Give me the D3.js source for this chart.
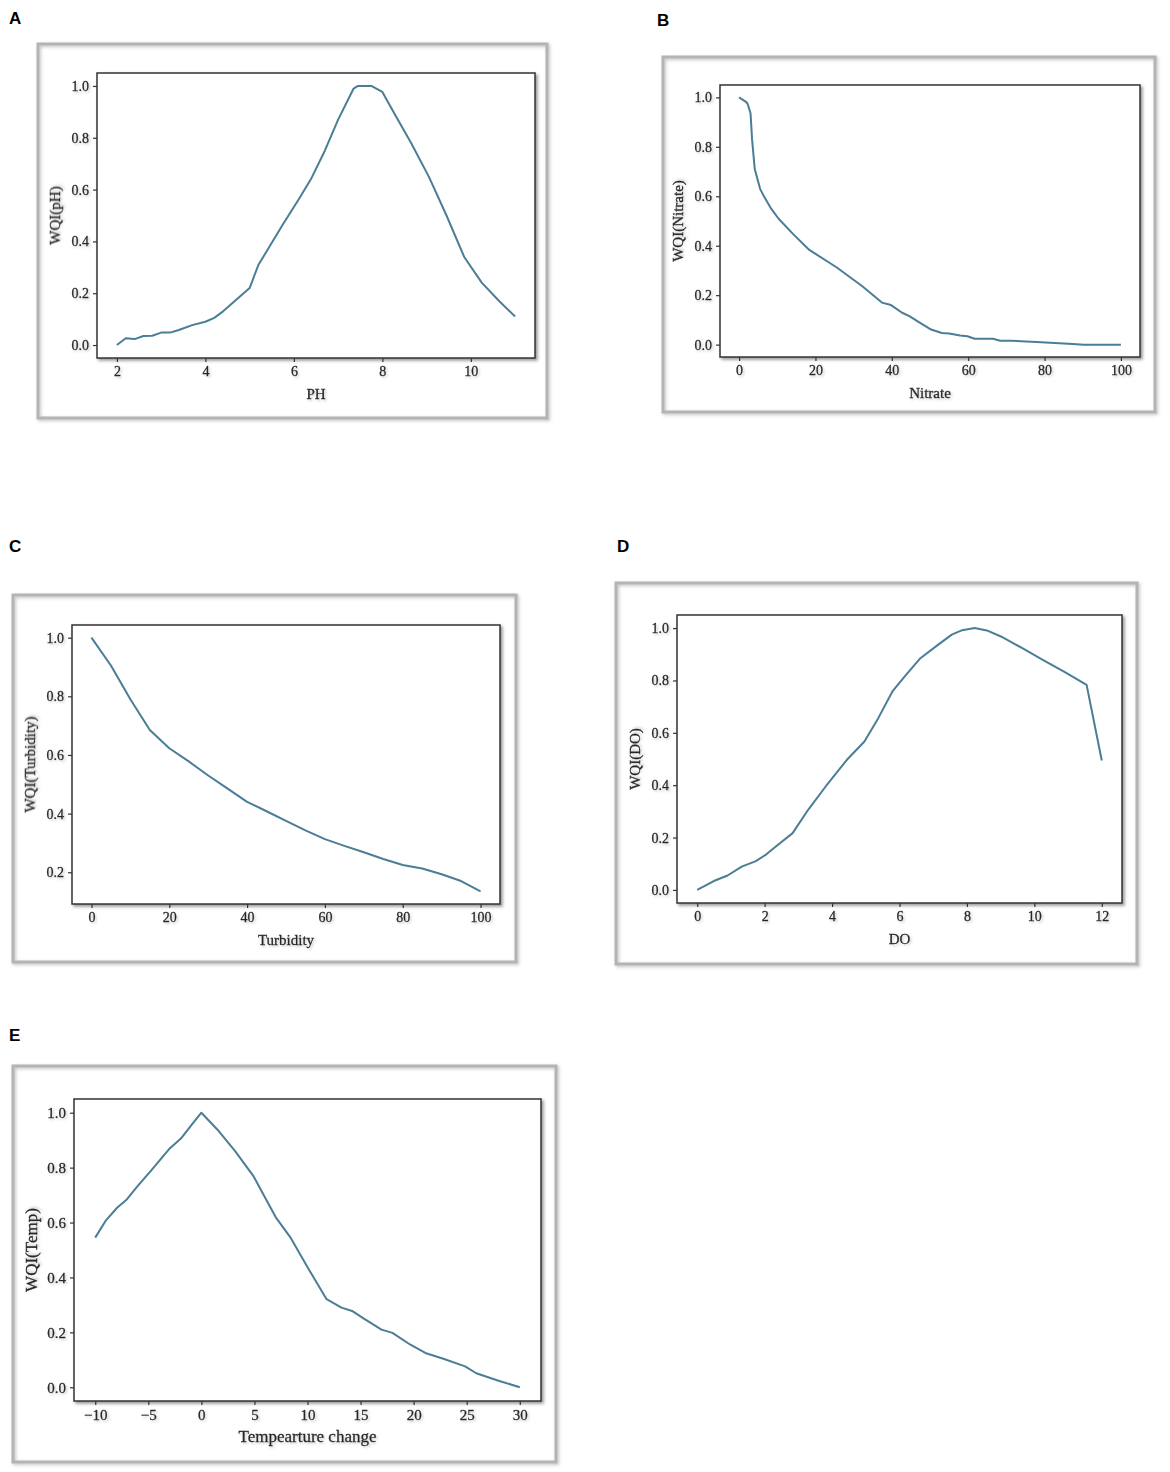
<!DOCTYPE html>
<html>
<head>
<meta charset="utf-8">
<script src="https://cdn.jsdelivr.net/npm/d3@7"></script>
<style>
  body { margin: 0; background: #fff; }
  svg { display: block; }
  .tick text { font-family: "Liberation Serif", "DejaVu Serif", serif; fill: #262626; stroke: #262626; stroke-width: 0.3px; }
  .axis-title { font-family: "Liberation Serif", "DejaVu Serif", serif; fill: #262626; stroke: #262626; stroke-width: 0.3px; }
  .panel-letter { font-family: "Liberation Sans", Arial, sans-serif; font-size: 17px; font-weight: bold; fill: #000; }
</style>
</head>
<body>
<script>
// WQI curves, values

// A - pH
var phX = [2, 2.2, 2.4, 2.6, 2.8, 3.0, 3.2, 3.4, 3.7, 4.0, 4.2, 4.4, 4.6, 5.0, 5.2, 5.45, 5.75, 6.1, 6.4, 6.7, 7.0, 7.35, 7.45, 7.75, 8.0, 8.3, 8.65, 9.05, 9.45, 9.85, 10.25, 10.65, 11.0];
var phY = [0, 0.026, 0.023, 0.035, 0.036, 0.048, 0.048, 0.058, 0.077, 0.09, 0.105, 0.13, 0.16, 0.22, 0.31, 0.38, 0.465, 0.56, 0.645, 0.75, 0.87, 0.99, 1.0, 1.0, 0.977, 0.885, 0.78, 0.65, 0.50, 0.34, 0.24, 0.168, 0.11];
var phTicksX = [2, 4, 6, 8, 10];
var phTicksY = [0, 0.2, 0.4, 0.6, 0.8, 1.0];

// B - Nitrate
var nitrateX = [0, 1.7, 2.2, 3.0, 3.4, 4.1, 5.5, 6.5, 8.4, 10.3, 14.1, 18.4, 25.5, 32.2, 37.4, 39.8, 42.7, 44.6, 47.4, 50.3, 53.1, 55, 57.9, 59.8, 61.7, 64.6, 66.5, 68.4, 71.2, 77.9, 82.7, 87.4, 90.3, 100];
var nitrateY = [1.0, 0.983, 0.975, 0.936, 0.83, 0.71, 0.63, 0.60, 0.55, 0.51, 0.448, 0.383, 0.313, 0.237, 0.17, 0.16, 0.129, 0.115, 0.088, 0.061, 0.047, 0.045, 0.037, 0.034, 0.024, 0.024, 0.024, 0.016, 0.016, 0.011, 0.007, 0.003, 0.0, 0.0];
var nitrateTicksX = [0, 20, 40, 60, 80, 100];
var nitrateTicksY = [0, 0.2, 0.4, 0.6, 0.8, 1.0];

// C - Turbidity
var turbX = [0, 5, 10, 15, 20, 25, 30, 35, 40, 45, 50, 55, 60, 65, 70, 75, 80, 85, 90, 95, 100];
var turbY = [1.0, 0.905, 0.79, 0.685, 0.623, 0.578, 0.53, 0.485, 0.44, 0.408, 0.375, 0.343, 0.313, 0.29, 0.268, 0.245, 0.225, 0.213, 0.193, 0.17, 0.135];
var turbTicksX = [0, 20, 40, 60, 80, 100];
var turbTicksY = [0.2, 0.4, 0.6, 0.8, 1.0];

// D - DO
var doX = [0, 0.49, 0.9, 1.32, 1.74, 2.05, 2.36, 2.83, 3.29, 3.81, 4.44, 4.96, 5.37, 5.79, 6.2, 6.62, 7.14, 7.55, 7.86, 8.23, 8.59, 9.01, 9.63, 10.25, 10.88, 11.55, 12];
var doY = [0, 0.034, 0.055, 0.089, 0.11, 0.136, 0.169, 0.217, 0.306, 0.395, 0.497, 0.567, 0.656, 0.758, 0.822, 0.885, 0.936, 0.975, 0.992, 1.0, 0.991, 0.968, 0.924, 0.879, 0.834, 0.783, 0.494];
var doTicksX = [0, 2, 4, 6, 8, 10, 12];
var doTicksY = [0, 0.2, 0.4, 0.6, 0.8, 1.0];

// E - Temperature change
var tempX = [-10, -8.97, -7.94, -7.08, -6.05, -4.68, -2.96, -1.93, -0.9, 0, 1.5, 3.2, 4.94, 5.96, 7.0, 8.37, 10.1, 11.8, 13.2, 14.2, 15.2, 16.97, 18, 19.7, 21.1, 22.8, 24.85, 25.9, 28, 30];
var tempY = [0.545, 0.609, 0.654, 0.682, 0.731, 0.792, 0.871, 0.906, 0.957, 1.0, 0.939, 0.859, 0.767, 0.694, 0.62, 0.547, 0.431, 0.321, 0.29, 0.278, 0.253, 0.21, 0.198, 0.155, 0.125, 0.104, 0.076, 0.051, 0.024, 0.0];
var tempTicksX = [-10, -5, 0, 5, 10, 15, 20, 25, 30];
var tempTicksY = [0, 0.2, 0.4, 0.6, 0.8, 1.0];

// panel layout: outer frame box, plot box, letter position, font sizes
var panels = [
    {letter: "A", xs: phX, ys: phY, tx: phTicksX, ty: phTicksY, xlabel: "PH", ylabel: "WQI(pH)",
     frame: [38, 44, 547, 418], plot: [97, 73, 535, 358], lx: 9, ly: 24, fs: 14, ls: 15},
    {letter: "B", xs: nitrateX, ys: nitrateY, tx: nitrateTicksX, ty: nitrateTicksY, xlabel: "Nitrate", ylabel: "WQI(Nitrate)",
     frame: [663, 57, 1155, 412], plot: [720, 85, 1140, 357], lx: 657, ly: 26, fs: 14, ls: 15},
    {letter: "C", xs: turbX, ys: turbY, tx: turbTicksX, ty: turbTicksY, xlabel: "Turbidity", ylabel: "WQI(Turbidity)",
     frame: [13, 595, 516, 962], plot: [72, 625, 500, 904], lx: 9, ly: 552, fs: 14, ls: 15},
    {letter: "D", xs: doX, ys: doY, tx: doTicksX, ty: doTicksY, xlabel: "DO", ylabel: "WQI(DO)",
     frame: [616, 583, 1137, 964], plot: [677, 615, 1122, 903], lx: 617, ly: 552, fs: 14, ls: 15},
    {letter: "E", xs: tempX, ys: tempY, tx: tempTicksX, ty: tempTicksY, xlabel: "Tempearture change", ylabel: "WQI(Temp)",
     frame: [13, 1066, 556, 1462], plot: [74, 1099, 541, 1401], lx: 9, ly: 1041, fs: 15, ls: 17}
];

let svg = d3.select("body").append("svg")
    .attr("width", 1170)
    .attr("height", 1472);

let defs = svg.append("defs");
defs.append("filter").attr("id", "boxShadow")
    .attr("x", "-5%").attr("y", "-5%").attr("width", "115%").attr("height", "115%")
    .append("feDropShadow")
    .attr("dx", 2).attr("dy", 2).attr("stdDeviation", 1.6)
    .attr("flood-color", "#555").attr("flood-opacity", 0.6);
defs.append("filter").attr("id", "frameShadow")
    .attr("x", "-5%").attr("y", "-5%").attr("width", "115%").attr("height", "115%")
    .append("feDropShadow")
    .attr("dx", 1.5).attr("dy", 1.5).attr("stdDeviation", 1.5)
    .attr("flood-color", "#888").attr("flood-opacity", 0.5);
defs.append("filter").attr("id", "textShadow")
    .attr("x", "-20%").attr("y", "-20%").attr("width", "150%").attr("height", "150%")
    .append("feDropShadow")
    .attr("dx", 1.5).attr("dy", 1.5).attr("stdDeviation", 1.2)
    .attr("flood-color", "#999").attr("flood-opacity", 0.5);

// matplotlib-like 5% padding of the data range
function padded(values) {
    let ext = d3.extent(values);
    let pad = (ext[1] - ext[0]) * 0.05;
    return [ext[0] - pad, ext[1] + pad];
}

panels.forEach(function(p) {
    let g = svg.append("g");
    let f = p.frame, b = p.plot;

    // panel letter
    g.append("text")
        .attr("class", "panel-letter")
        .attr("x", p.lx)
        .attr("y", p.ly)
        .text(p.letter);

    // grey screenshot frame
    g.append("rect")
        .attr("x", f[0]).attr("y", f[1])
        .attr("width", f[2] - f[0]).attr("height", f[3] - f[1])
        .attr("fill", "none")
        .attr("stroke", "#b4b4b4")
        .attr("stroke-width", 3)
        .attr("filter", "url(#frameShadow)");

    let x = d3.scaleLinear().domain(padded(p.xs)).range([b[0], b[2]]);
    let y = d3.scaleLinear().domain(padded(p.ys)).range([b[3], b[1]]);

    // plot box
    g.append("rect")
        .attr("x", b[0]).attr("y", b[1])
        .attr("width", b[2] - b[0]).attr("height", b[3] - b[1])
        .attr("fill", "#fff")
        .attr("stroke", "#333")
        .attr("stroke-width", 1.5)
        .attr("filter", "url(#boxShadow)");

    let xAxis = d3.axisBottom(x).tickValues(p.tx).tickFormat(d3.format("d")).tickSize(4).tickPadding(4);
    let yAxis = d3.axisLeft(y).tickValues(p.ty).tickFormat(d3.format(".1f")).tickSize(4).tickPadding(4);

    let xg = g.append("g")
        .attr("transform", "translate(0," + b[3] + ")")
        .call(xAxis);
    let yg = g.append("g")
        .attr("transform", "translate(" + b[0] + ",0)")
        .call(yAxis);

    [xg, yg].forEach(function(ag) {
        ag.select(".domain").remove();
        ag.selectAll(".tick line").attr("stroke", "#333").attr("stroke-width", 1.2);
        ag.selectAll(".tick text")
            .attr("font-size", p.fs)
            .attr("filter", "url(#textShadow)");
    });

    // curve
    let pts = p.xs.map((d, i) => [d, p.ys[i]]);
    g.append("path")
        .datum(pts)
        .attr("fill", "none")
        .attr("stroke", "#4a7d96")
        .attr("stroke-width", 2)
        .attr("stroke-linejoin", "round")
        .attr("d", d3.line().x(d => x(d[0])).y(d => y(d[1])));

    // axis titles
    g.append("text")
        .attr("class", "axis-title")
        .attr("font-size", p.ls)
        .attr("x", (b[0] + b[2]) / 2)
        .attr("y", b[3] + 41)
        .attr("text-anchor", "middle")
        .attr("filter", "url(#textShadow)")
        .text(p.xlabel);

    g.append("text")
        .attr("class", "axis-title")
        .attr("font-size", p.ls)
        .attr("transform", "translate(" + (b[0] - 37) + "," + ((b[1] + b[3]) / 2) + ") rotate(-90)")
        .attr("text-anchor", "middle")
        .attr("filter", "url(#textShadow)")
        .text(p.ylabel);
});
</script>
</body>
</html>
